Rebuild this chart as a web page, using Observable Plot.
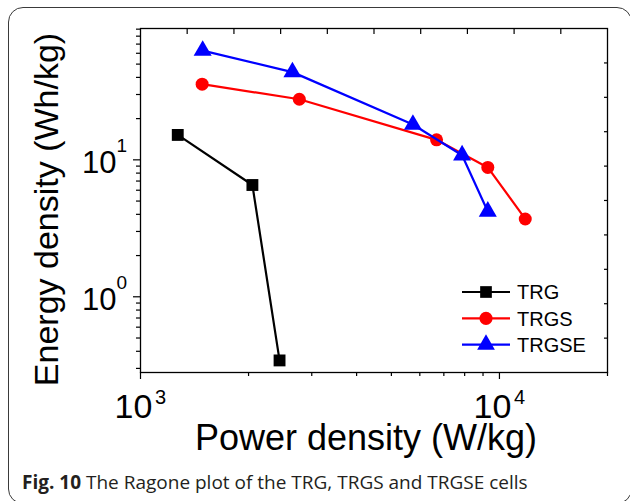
<!DOCTYPE html>
<html>
<head>
<meta charset="utf-8">
<script src="https://cdn.jsdelivr.net/npm/d3@7"></script>
<script src="https://cdn.jsdelivr.net/npm/@observablehq/plot@0.6"></script>
<style>
  html, body { margin: 0; padding: 0; background: #fff; }
  #fig { position: relative; width: 630px; height: 501px; overflow: hidden; background: #fff; }
  #frame { position: absolute; left: 8px; top: 7px; width: 624px; height: 497px; box-sizing: border-box;
           border: 1.5px solid #3a3a3a; border-radius: 15px; }
  #chart { position: absolute; left: 0; top: 0; }
  #caption { position: absolute; left: 22px; top: 469px; font-family: "Open Sans", sans-serif; font-size: 19px;
             color: #231f20; white-space: nowrap; }
  #caption b { font-weight: 700; }
</style>
</head>
<body>
<div id="fig">
  <div id="frame"></div>
  <div id="chart"></div>
  <div id="caption"><b>Fig. 10</b> The Ragone plot of the TRG, TRGS and TRGSE cells</div>
</div>
<script>
// Ragone plot: energy density vs power density, log–log
const seriesNames = ["TRG", "TRGS", "TRGSE"];
const seriesColors = ["#000000", "#ff0000", "#0000ff"];
const seriesSymbols = ["square", "circle", "triangle"];

// power density (W/kg) and energy density (Wh/kg) for each cell
const powerTRG = [1270, 2050, 2440];
const energyTRG = [15.2, 6.55, 0.343];
const powerTRGS = [1485, 2770, 6680, 9280, 11800];
const energyTRGS = [35.7, 27.7, 14.0, 8.8, 3.7];
const powerTRGSE = [1490, 2650, 5740, 7870, 9280];
const energyTRGSE = [62.7, 43.7, 18.1, 10.8, 4.2];

// axes
const xDomain = [1000, 20000];
const yDomain = [0.28, 91];
const xMajorTicks = [1000, 10000];
const xMinorTicks = [2000, 3000, 4000, 5000, 6000, 7000, 8000, 9000, 20000];
const xTickExponents = ["3", "4"];
const yMajorTicks = [1, 10];
const yMinorTicks = [0.3, 0.4, 0.5, 0.6, 0.7, 0.8, 0.9, 2, 3, 4, 5, 6, 7, 8, 9, 20, 30, 40, 50, 60, 70, 80, 90];
const yTickExponents = ["0", "1"];
// evenly spaced inward ticks on the mirrored top and right axes
const topTicks = [1349, 1821, 2457, 3315, 4472, 6034, 8142, 10986, 14823];
const rightTicks = [0.499, 0.890, 1.587, 2.83, 5.05, 9.0, 16.05, 28.6, 51.0];

const xTitle = "Power density (W/kg)";
const yTitle = "Energy density (Wh/kg)";

const rows = (px, ey, name) => px.map((p, i) => ({power: p, energy: ey[i], cell: name}));
const series = [
  rows(powerTRG, energyTRG, seriesNames[0]),
  rows(powerTRGS, energyTRGS, seriesNames[1]),
  rows(powerTRGSE, energyTRGSE, seriesNames[2])
];

const W = 630, H = 460;
const mL = 140, mR = 23, mT = 28, mB = 88;
const font = "'Liberation Sans', Arial, sans-serif";

const seriesMarks = series.flatMap((data, k) => [
  Plot.line(data, {x: "power", y: "energy", stroke: seriesColors[k], strokeWidth: 2.2}),
  Plot.dot(data, {x: "power", y: "energy", symbol: () => seriesSymbols[k], fill: seriesColors[k],
                  stroke: "none", r: k === 1 ? 6.5 : 6.7})
]);

const chart = Plot.plot({
  width: W, height: H,
  marginLeft: mL, marginRight: mR, marginTop: mT, marginBottom: mB,
  style: {fontFamily: font, color: "#000", background: "transparent", overflow: "visible"},
  x: {type: "log", domain: xDomain},
  y: {type: "log", domain: yDomain},
  symbol: {type: "identity"},
  marks: [
    // outward ticks on bottom and left
    Plot.axisX(xMajorTicks, {anchor: "bottom", tickSize: 7, tickFormat: () => "", label: null, strokeWidth: 1.2}),
    Plot.axisX(xMinorTicks, {anchor: "bottom", tickSize: 4, tickFormat: () => "", label: null, strokeWidth: 1.2}),
    Plot.axisY(yMajorTicks, {anchor: "left", tickSize: 7, tickFormat: () => "", label: null, strokeWidth: 1.2}),
    Plot.axisY(yMinorTicks, {anchor: "left", tickSize: 4, tickFormat: () => "", label: null, strokeWidth: 1.2}),
    // inward ticks on top and right
    Plot.axisX(topTicks, {anchor: "top", tickSize: 5, insetTop: 5, tickFormat: () => "", label: null, strokeWidth: 1.2}),
    Plot.axisY(rightTicks, {anchor: "right", tickSize: 4, insetRight: 4, tickFormat: () => "", label: null, strokeWidth: 1.2}),
    Plot.frame({stroke: "#000", strokeWidth: 1.3}),
    // decade labels as 10 with superscript exponent
    Plot.text(xMajorTicks, {x: d => d, frameAnchor: "bottom", text: () => "10", textAnchor: "middle",
                            lineAnchor: "bottom", dx: -7, dy: 45, fontSize: 34}),
    Plot.text(xMajorTicks, {x: d => d, frameAnchor: "bottom", text: (d, i) => xTickExponents[i], textAnchor: "middle",
                            lineAnchor: "bottom", dx: 20, dy: 31, fontSize: 20}),
    Plot.text(yMajorTicks, {y: d => d, frameAnchor: "left", text: () => "10", textAnchor: "end",
                            lineAnchor: "bottom", dx: -24, dy: 13, fontSize: 31}),
    Plot.text(yMajorTicks, {y: d => d, frameAnchor: "left", text: (d, i) => yTickExponents[i], textAnchor: "start",
                            lineAnchor: "bottom", dx: -24, dy: -8, fontSize: 19}),
    // axis titles
    Plot.text([xTitle], {frameAnchor: "bottom", text: d => d, textAnchor: "middle", lineAnchor: "bottom",
                         dx: -8, dy: 77, fontSize: 36}),
    Plot.text([yTitle], {frameAnchor: "left", text: d => d, textAnchor: "middle", rotate: -90, lineAnchor: "bottom",
                         dx: -83, dy: 9, fontSize: 34}),
    ...seriesMarks
  ]
});

document.getElementById("chart").appendChild(chart);

// legend in the lower right of the plotting frame
const svg = d3.select(chart);
const legend = svg.append("g")
  .attr("transform", `translate(${W - mR - 145},${H - mB - 80})`)
  .attr("font-family", font).attr("font-size", 20).attr("text-anchor", "start");
seriesNames.forEach((name, k) => {
  const g = legend.append("g").attr("transform", `translate(0,${k * 26.3})`);
  g.append("line").attr("x1", 0).attr("x2", 48).attr("y1", 0).attr("y2", 0)
    .attr("stroke", seriesColors[k]).attr("stroke-width", 2.2);
  const sym = {square: d3.symbolSquare, circle: d3.symbolCircle, triangle: d3.symbolTriangle}[seriesSymbols[k]];
  g.append("path").attr("d", d3.symbol(sym, Math.PI * 6.6 * 6.6)()).attr("transform", "translate(24,0)")
    .attr("fill", seriesColors[k]);
  g.append("text").attr("x", 55).attr("y", 0).attr("dy", "0.36em").attr("text-anchor", "start")
    .attr("fill", "#000").text(name);
});
</script>
</body>
</html>
